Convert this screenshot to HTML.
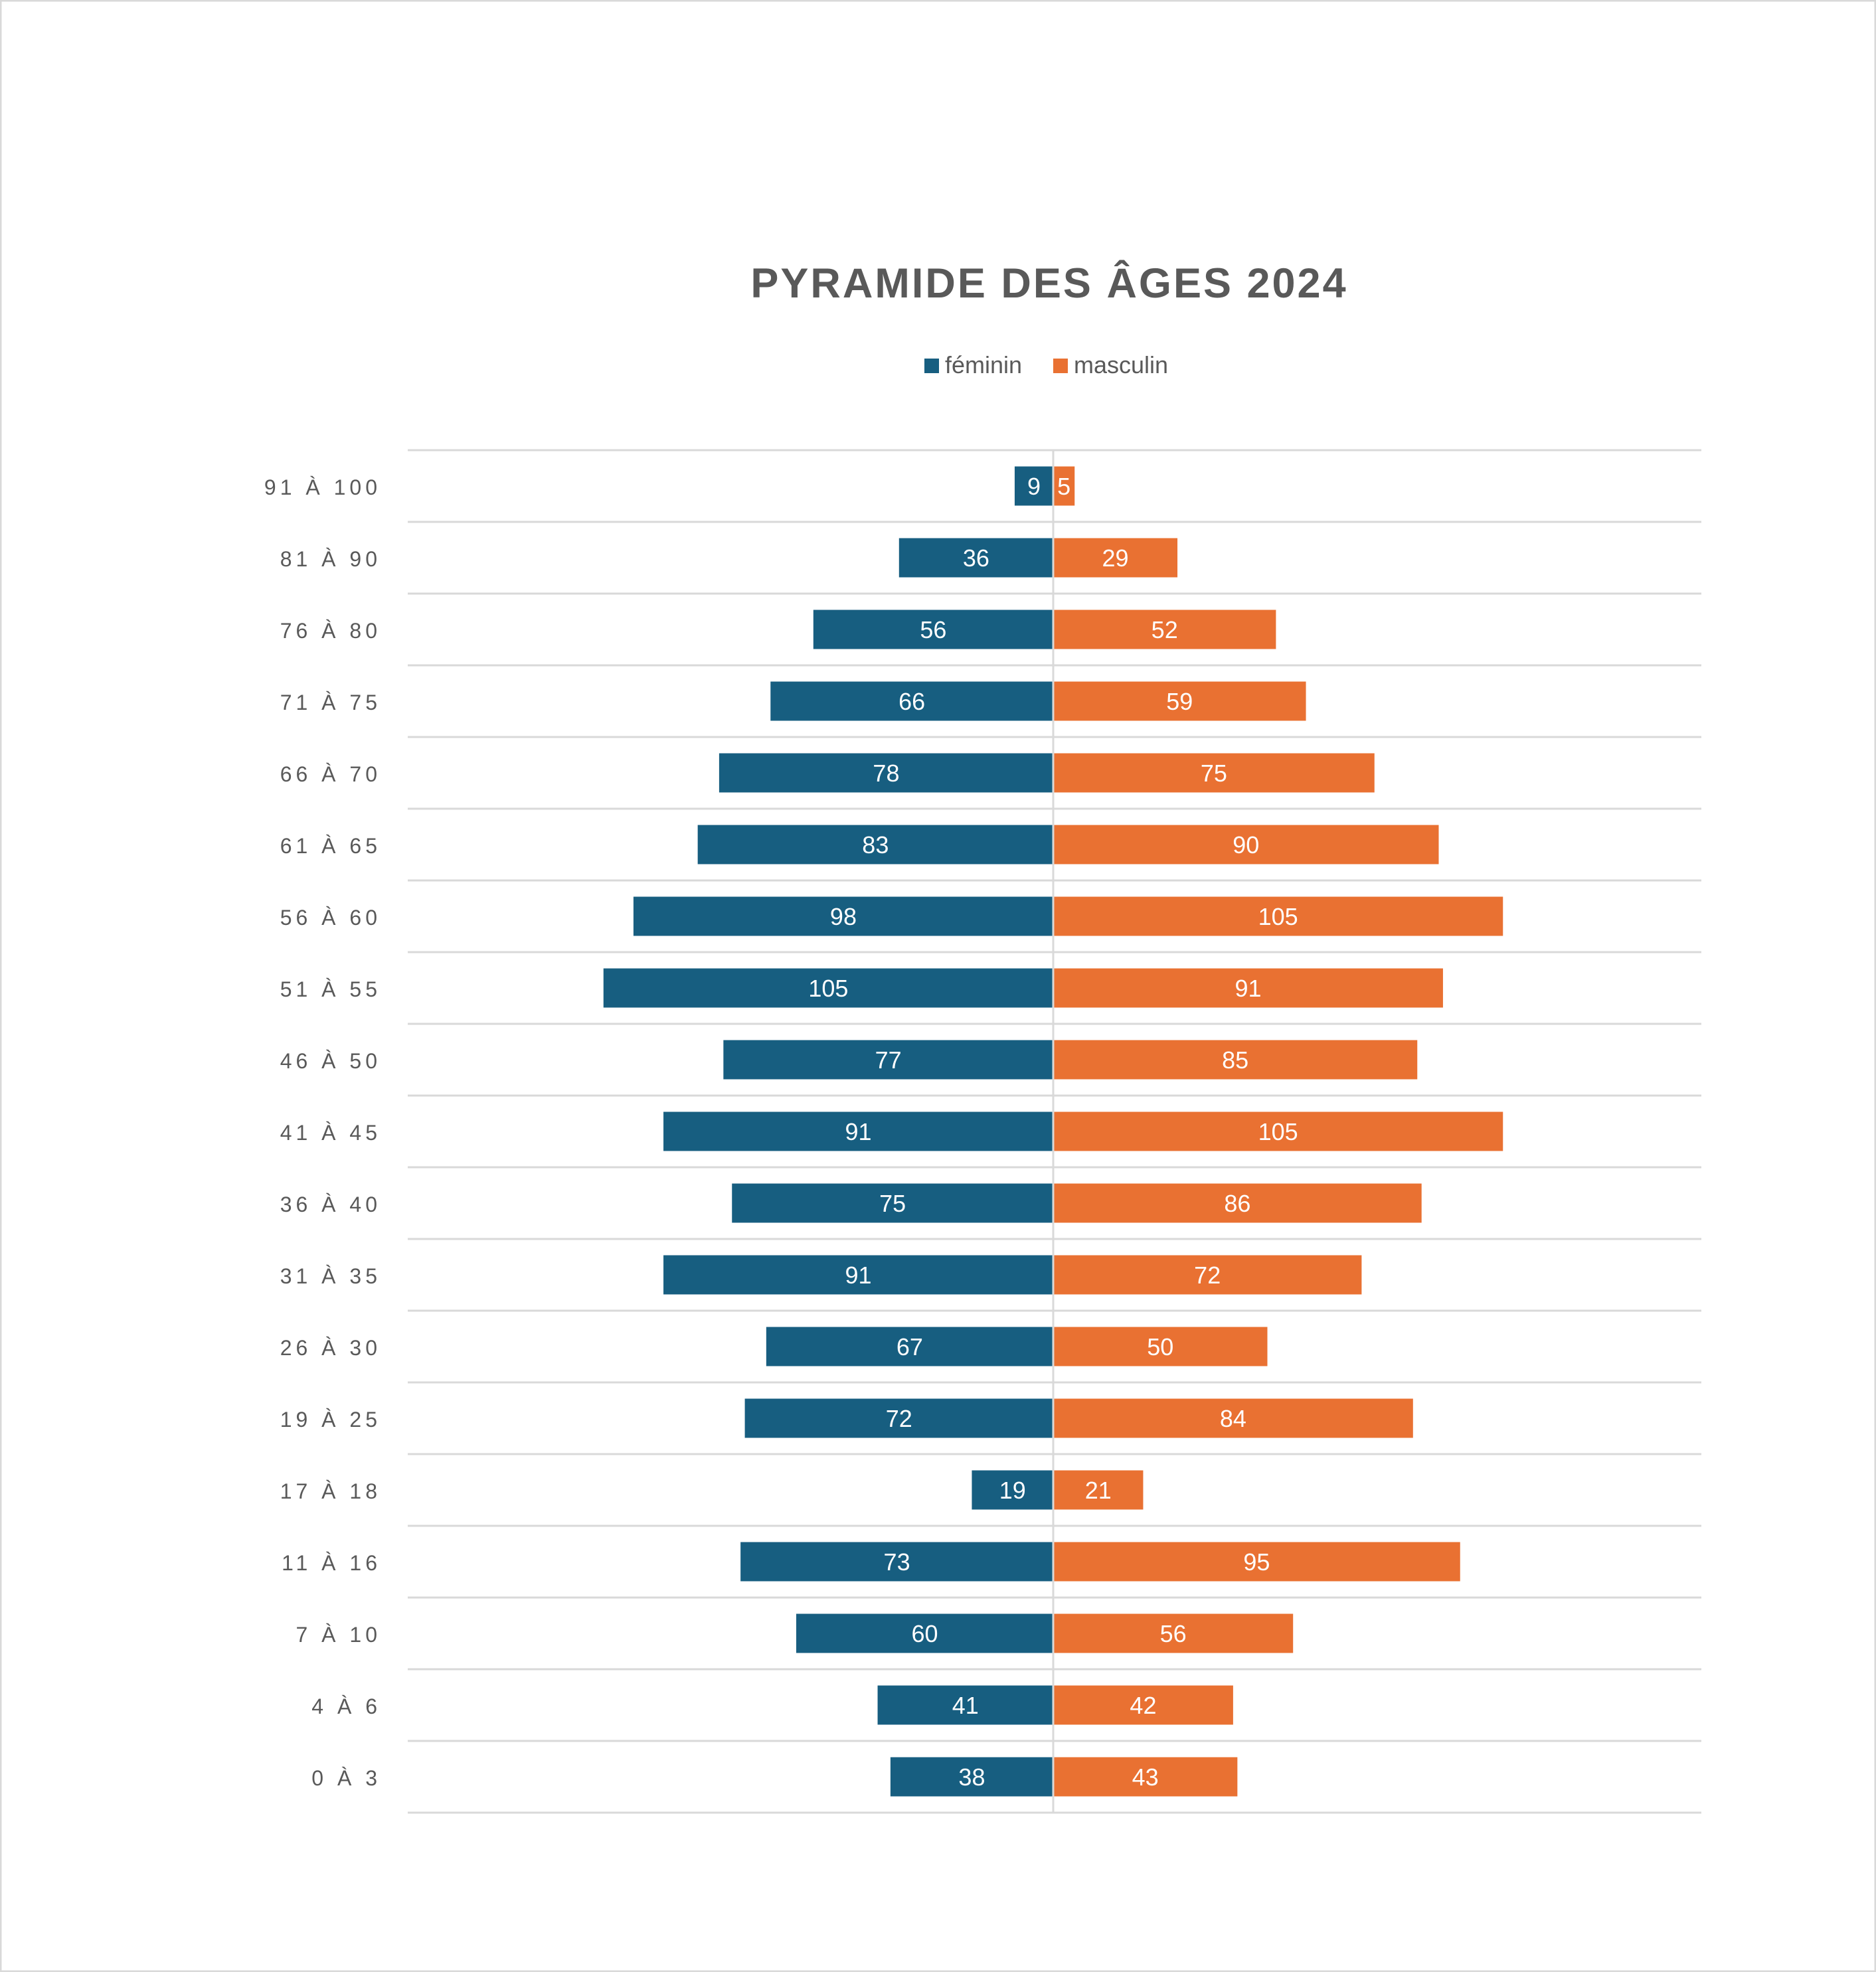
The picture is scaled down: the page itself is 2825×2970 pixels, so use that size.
<!DOCTYPE html>
<html><head><meta charset="utf-8"><style>
html,body{margin:0;padding:0;background:#fff}
svg{display:block}
text{font-family:"Liberation Sans",sans-serif}
</style></head><body>
<svg id="chart" width="2825" height="2970" viewBox="0 0 2825 2970" xmlns="http://www.w3.org/2000/svg">
<rect x="1" y="1" width="2823" height="2968" fill="#fff" stroke="#d9d9d9" stroke-width="3"/>
<text x="1580" y="448" text-anchor="middle" font-size="63" font-weight="bold" fill="#595959" letter-spacing="3">PYRAMIDE DES ÂGES 2024</text>
<g>
<rect x="1392" y="540" width="22" height="22" fill="#175E80"/>
<text x="1423" y="562" font-size="36" fill="#595959">féminin</text>
<rect x="1586" y="540" width="22" height="22" fill="#E97132"/>
<text x="1617" y="562" font-size="36" fill="#595959">masculin</text>
</g>
<g id="plot"></g>
</svg>
<script>
const categories=["91 À 100","81 À 90","76 À 80","71 À 75","66 À 70","61 À 65","56 À 60","51 À 55","46 À 50","41 À 45","36 À 40","31 À 35","26 À 30","19 À 25","17 À 18","11 À 16","7 À 10","4 À 6","0 À 3"];
const feminin=[9,36,56,66,78,83,98,105,77,91,75,91,67,72,19,73,60,41,38];
const masculin=[5,29,52,59,75,90,105,91,85,105,86,72,50,84,21,95,56,42,43];
(function(){
const NS="http://www.w3.org/2000/svg";
const g=document.getElementById('plot');
const cx=1586, plotTop=678, rowH=108, left=614, right=2562, unit=6.45, barH=59;
const xs=v=>v*unit;
const ys=i=>plotTop+i*rowH;
function mk(t,a){const e=document.createElementNS(NS,t);for(const k in a)e.setAttribute(k,a[k]);g.appendChild(e);return e;}
for(let i=0;i<=categories.length;i++){
  const l=mk('line',{x1:left,x2:right,y1:ys(i),y2:ys(i),stroke:'#d9d9d9','stroke-width':3});
  
  
}
categories.forEach((c,i)=>{
  const y=ys(i), by=y+(rowH-barH)/2, ty=y+rowH/2+13;
  const lab=mk('text',{x:574,y:ty,'text-anchor':'end','font-size':32,fill:'#595959','letter-spacing':6});
  lab.textContent=c;
  
  
  const wf=xs(feminin[i]);
  const bf=mk('rect',{x:cx-wf,y:by,width:wf,height:barH,fill:'#175E80'});
  
  
  const tf=mk('text',{x:cx-wf/2,y:ty,'text-anchor':'middle','font-size':36,fill:'#fff'});
  tf.textContent=feminin[i];
  
  
  const wm=xs(masculin[i]);
  const bm=mk('rect',{x:cx,y:by,width:wm,height:barH,fill:'#E97132'});
  
  
  const tm=mk('text',{x:cx+wm/2,y:ty,'text-anchor':'middle','font-size':36,fill:'#fff'});
  tm.textContent=masculin[i];
  
  
});
const ax=mk('line',{x1:cx,x2:cx,y1:plotTop,y2:ys(categories.length),stroke:'#d9d9d9','stroke-width':3});


})();
</script>
</body></html>
